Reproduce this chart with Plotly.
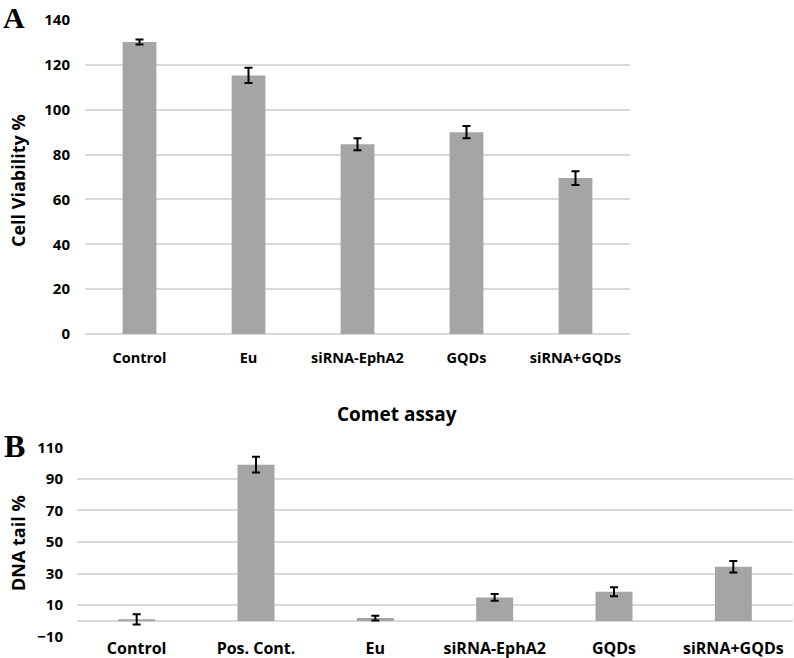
import plotly.graph_objects as go

# Panel A data
cats_a = ["Control", "Eu", "siRNA-EphA2", "GQDs", "siRNA+GQDs"]
vals_a = [130.2, 115.3, 84.6, 90.0, 69.5]
errs_a = [1.1, 3.4, 2.7, 2.7, 3.1]
ticks_a = [0, 20, 40, 60, 80, 100, 120, 140]

# Panel B data
cats_b = ["Control", "Pos. Cont.", "Eu", "siRNA-EphA2", "GQDs", "siRNA+GQDs"]
vals_b = [1.0, 99.0, 1.8, 14.9, 18.5, 34.3]
errs_b = [3.2, 5.0, 1.5, 2.2, 2.8, 3.7]
ticks_b = [-10, 10, 30, 50, 70, 90, 110]

BAR = "#a5a5a5"
GRID = "#d9d9d9"
FONT = "Open Sans, DejaVu Sans, sans-serif"
W, H = 794, 658

def px_x(x):
    return x / W

def px_y(y):
    return 1 - y / H

fig = go.Figure()
fig.add_trace(go.Bar(
    x=cats_a, y=vals_a, marker=dict(color=BAR, line=dict(width=0)),
    error_y=dict(type="data", array=errs_a, color="black", thickness=2, width=4),
    xaxis="x", yaxis="y", showlegend=False,
))
fig.add_trace(go.Bar(
    x=cats_b, y=vals_b, marker=dict(color=BAR, line=dict(width=0)),
    error_y=dict(type="data", array=errs_b, color="black", thickness=2, width=4),
    xaxis="x2", yaxis="y2", showlegend=False,
))

fig.update_layout(
    width=W, height=H,
    margin=dict(l=0, r=0, t=0, b=0),
    paper_bgcolor="white", plot_bgcolor="white",
    bargap=0.69,
    font=dict(family=FONT, color="black"),
    xaxis=dict(domain=[px_x(85), px_x(630)], anchor="y", showgrid=False, automargin=False,
               showline=False, ticks="", tickfont=dict(size=14.5, family=FONT, weight="bold"),
               ticklabelstandoff=13),
    yaxis=dict(domain=[px_y(334), px_y(20)], anchor="x", range=[0, 140], automargin=False,
               tickvals=ticks_a, showgrid=True, gridcolor=GRID, gridwidth=1.5,
               zeroline=True, zerolinecolor=GRID, zerolinewidth=1.5, showline=False,
               tickfont=dict(size=15, family=FONT, weight="bold"), ticklabelstandoff=14),
    xaxis2=dict(domain=[px_x(77), px_x(793)], anchor="y2", showgrid=False, automargin=False,
                showline=False, ticks="", tickfont=dict(size=16, family=FONT, weight="bold"),
                ticklabelstandoff=0),
    yaxis2=dict(domain=[px_y(636.7), px_y(447.3)], anchor="x2", range=[-10, 110],
                automargin=False,
                tickvals=ticks_b, showgrid=True, gridcolor=GRID, gridwidth=1.5,
                zeroline=True, zerolinecolor=GRID, zerolinewidth=1.5, showline=False,
                tickfont=dict(size=15, family=FONT, weight="bold"), ticklabelstandoff=13),
    annotations=[
        dict(text="A", x=px_x(14), y=px_y(18), xref="paper", yref="paper",
             showarrow=False, xanchor="center", yanchor="middle",
             font=dict(family="Liberation Serif, Times New Roman, serif", size=30, weight="bold")),
        dict(text="B", x=px_x(14), y=px_y(446), xref="paper", yref="paper",
             showarrow=False, xanchor="center", yanchor="middle",
             font=dict(family="Liberation Serif, Times New Roman, serif", size=32, weight="bold")),
        dict(text="Cell Viability %", x=px_x(18), y=px_y(181), xref="paper", yref="paper",
             showarrow=False, textangle=-90, xanchor="center", yanchor="middle",
             font=dict(family=FONT, size=18, weight="bold")),
        dict(text="DNA tail %", x=px_x(18), y=px_y(543), xref="paper", yref="paper",
             showarrow=False, textangle=-90, xanchor="center", yanchor="middle",
             font=dict(family=FONT, size=18, weight="bold")),
        dict(text="Comet assay", x=px_x(397), y=px_y(414), xref="paper", yref="paper",
             showarrow=False, xanchor="center", yanchor="middle",
             font=dict(family=FONT, size=19, weight="bold")),
    ],
)

fig.write_html(
    "out.html",
    config={"displayModeBar": False},
    post_script="document.body.style.margin='0';document.body.style.overflow='hidden';",
)
